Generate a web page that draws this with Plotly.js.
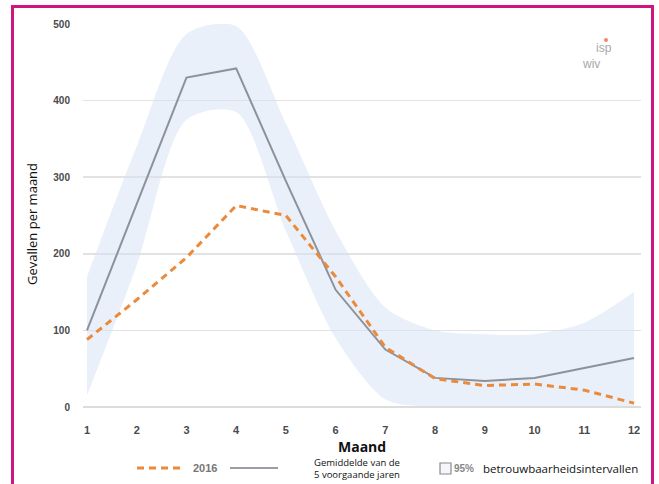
<!DOCTYPE html>
<html>
<head>
<meta charset="utf-8">
<script src="https://cdn.plot.ly/plotly-3.0.1.min.js"></script>
<style>
  html, body { margin: 0; padding: 0; background: #fff; }
  #wrap { position: relative; width: 659px; height: 484px; overflow: hidden; }
  #chart { position: absolute; left: 0; top: 0; width: 659px; height: 484px; }
  #frame { position: absolute; left: 11px; top: 5px; width: 637px; height: 500px;
           border: 3px solid #cf1580; pointer-events: none; }
</style>
</head>
<body>
<div id="wrap">
  <div id="chart"></div>
  <div id="frame"></div>
</div>
<script>
// Data
const months = [1, 2, 3, 4, 5, 6, 7, 8, 9, 10, 11, 12];
const cases2016 = [88, 140, 195, 263, 250, 170, 78, 37, 28, 30, 22, 5];
const mean5y = [100, 265, 430, 442, 295, 153, 75, 38, 34, 38, 51, 64];
const ciUpper = [170, 340, 487, 497, 370, 230, 130, 100, 95, 95, 110, 150];
const ciLower = [15, 185, 375, 385, 230, 90, 10, 0, 0, 0, 0, 0];
const yTicks = [0, 100, 200, 300, 400, 500];

const bandColor = 'rgba(214,225,243,0.5)';

const traces = [
  { x: months, y: ciLower, type: 'scatter', mode: 'lines',
    line: { width: 0, shape: 'spline', smoothing: 0.8 }, hoverinfo: 'skip', showlegend: false },
  { x: months, y: ciUpper, type: 'scatter', mode: 'lines', fill: 'tonexty',
    fillcolor: bandColor, line: { width: 0, shape: 'spline', smoothing: 0.8 },
    hoverinfo: 'skip', showlegend: false },
  { x: months, y: mean5y, type: 'scatter', mode: 'lines',
    line: { color: '#8c929b', width: 2 }, showlegend: false },
  { x: months, y: cases2016, type: 'scatter', mode: 'lines',
    line: { color: '#ec8a3c', width: 3, dash: '7px,5px' }, showlegend: false }
];

// helper to convert pixel positions to paper coordinates
const L = 83, R = 641, T = 24, B = 407;
const px = v => (v - L) / (R - L);
const py = v => (B - v) / (B - T);

const layout = {
  width: 659, height: 484,
  margin: { l: L, r: 659 - R, t: T, b: 484 - B },
  paper_bgcolor: 'rgba(0,0,0,0)',
  plot_bgcolor: 'rgba(0,0,0,0)',
  showlegend: false,
  xaxis: {
    range: [0.92, 12.14],
    tickvals: months,
    ticktext: months.map(String),
    showgrid: false, zeroline: false, showline: false,
    ticks: 'outside', ticklen: 13, tickcolor: 'rgba(0,0,0,0)',
    tickfont: { family: 'Liberation Sans, Arial, sans-serif', size: 11, color: '#4a4a4a', weight: 'bold' }
  },
  yaxis: {
    range: [0, 500],
    tickvals: yTicks,
    ticktext: yTicks.map(String),
    showgrid: true, gridcolor: '#e2e2e2', gridwidth: 1.5,
    zeroline: false, showline: false,
    ticks: 'outside', ticklen: 10, tickcolor: 'rgba(0,0,0,0)',
    tickfont: { family: 'Liberation Sans, Arial, sans-serif', size: 10, color: '#4a4a4a', weight: 'bold' }
  },
  shapes: [
    { type: 'line', xref: 'paper', yref: 'paper', x0: 0, x1: 1, y0: 0, y1: 0,
      line: { color: '#dcdcdc', width: 2 } },
    { type: 'line', xref: 'paper', yref: 'paper', x0: px(137), x1: px(185), y0: py(468), y1: py(468),
      line: { color: '#ec8a3c', width: 3, dash: '7px,5px' } },
    { type: 'line', xref: 'paper', yref: 'paper', x0: px(230), x1: px(278), y0: py(468), y1: py(468),
      line: { color: '#9a9fa6', width: 2 } },
    { type: 'rect', xref: 'paper', yref: 'paper', x0: px(440), x1: px(451), y0: py(463), y1: py(474),
      line: { color: '#8a8a8a', width: 1.2 }, fillcolor: '#f4f6fa' },
    { type: 'circle', xref: 'paper', yref: 'paper', x0: px(604), x1: px(608), y0: py(38), y1: py(42),
      line: { width: 0 }, fillcolor: '#f08a6a' }
  ],
  annotations: [
    { text: 'Gevallen per maand', xref: 'paper', yref: 'paper', x: px(32), y: py(224),
      textangle: -90, showarrow: false, xanchor: 'center', yanchor: 'middle',
      font: { family: 'Open Sans, sans-serif', size: 13, color: '#111' } },
    { text: 'Maand', xref: 'paper', yref: 'paper', x: px(362), y: py(446),
      showarrow: false, xanchor: 'center', yanchor: 'middle',
      font: { family: 'Open Sans, sans-serif', size: 14, color: '#111', weight: 'bold' } },
    { text: '2016', xref: 'paper', yref: 'paper', x: px(191), y: py(468),
      showarrow: false, xanchor: 'left', yanchor: 'middle',
      font: { family: 'Liberation Sans, Arial, sans-serif', size: 11, color: '#777', weight: 'bold' } },
    { text: 'Gemiddelde van de<br>5 voorgaande jaren', xref: 'paper', yref: 'paper', x: px(357), y: py(468),
      showarrow: false, xanchor: 'center', yanchor: 'middle', align: 'left',
      font: { family: 'Open Sans, sans-serif', size: 9.5, color: '#111' } },
    { text: '95%', xref: 'paper', yref: 'paper', x: px(452), y: py(468),
      showarrow: false, xanchor: 'left', yanchor: 'middle',
      font: { family: 'Liberation Sans, Arial, sans-serif', size: 10, color: '#888', weight: 'bold' } },
    { text: 'betrouwbaarheidsintervallen', xref: 'paper', yref: 'paper', x: px(481), y: py(468),
      showarrow: false, xanchor: 'left', yanchor: 'middle',
      font: { family: 'Open Sans, sans-serif', size: 11.5, color: '#111' } },
    { text: 'isp', xref: 'paper', yref: 'paper', x: px(604), y: py(48),
      showarrow: false, xanchor: 'center', yanchor: 'middle',
      font: { family: 'Liberation Sans, Arial, sans-serif', size: 12, color: '#a8a8a8' } },
    { text: 'wiv', xref: 'paper', yref: 'paper', x: px(591), y: py(64),
      showarrow: false, xanchor: 'center', yanchor: 'middle',
      font: { family: 'Liberation Sans, Arial, sans-serif', size: 12, color: '#a8a8a8' } }
  ]
};

Plotly.newPlot('chart', traces, layout, { displayModeBar: false, staticPlot: true });
</script>
</body>
</html>
